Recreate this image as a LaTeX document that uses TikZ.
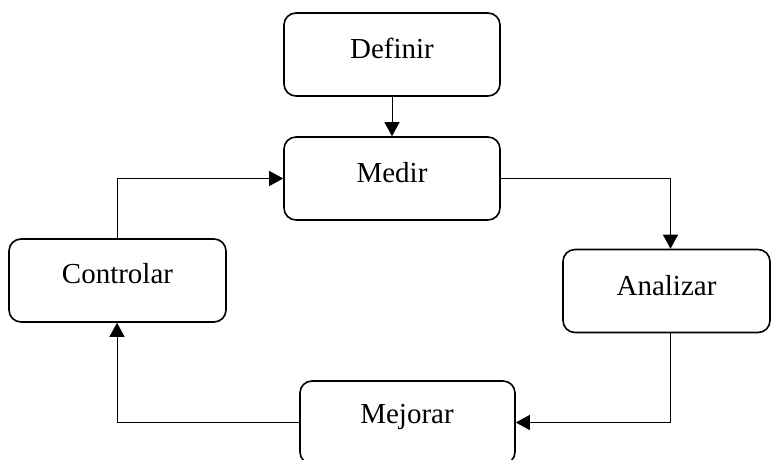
\documentclass[tikz,border=0pt]{standalone}
\usepackage{fontspec}
\setmainfont{Liberation Serif}
\usetikzlibrary{arrows.meta}
\begin{document}
\begin{tikzpicture}[x=1pt,y=-1pt,
  stagebox/.style={draw=black,line width=1.6pt,rounded corners=12pt,fill=white,
    minimum height=83pt,inner sep=0pt},
  stagelabel/.style={font=\fontsize{29}{34}\selectfont,inner sep=0pt},
  flow/.style={line width=1pt,-{Triangle[width=15pt,length=14pt]}}]
\useasboundingbox (0,0) rectangle (771,459);
\clip (0,0) rectangle (771,459);
\fill[white] (0,0) rectangle (771,459);

% stage boxes
\node[stagebox,minimum width=216pt] (def) at (392,54.5) {};
\node[stagebox,minimum width=216pt] (med) at (392,178.5) {};
\node[stagebox,minimum width=217pt] (con) at (117.5,280.5) {};
\node[stagebox,minimum width=207pt] (ana) at (666.5,291) {};
\node[stagebox,minimum width=215pt] (mej) at (407.5,422.5) {};

% stage names
\node[stagelabel] (defl) at (392,48) {Definir};
\node[stagelabel] (medl) at (392,173) {Medir};
\node[stagelabel] (conl) at (117.5,274) {Controlar};
\node[stagelabel] (anal) at (666.5,286) {Analizar};
\node[stagelabel] (mejl) at (407,417) {Mejorar};

% cycle connectors
\draw[flow] (def.south) -- (med.north);
\draw[flow] (med.east) -| ([xshift=4pt]ana.north);
\draw[flow] ([xshift=4pt]ana.south) |- (mej.east);
\draw[flow] (mej.west) -| ([xshift=-0.5pt]con.south);
\draw[flow] ([xshift=-0.5pt]con.north) |- (med.west);
\end{tikzpicture}
\end{document}
